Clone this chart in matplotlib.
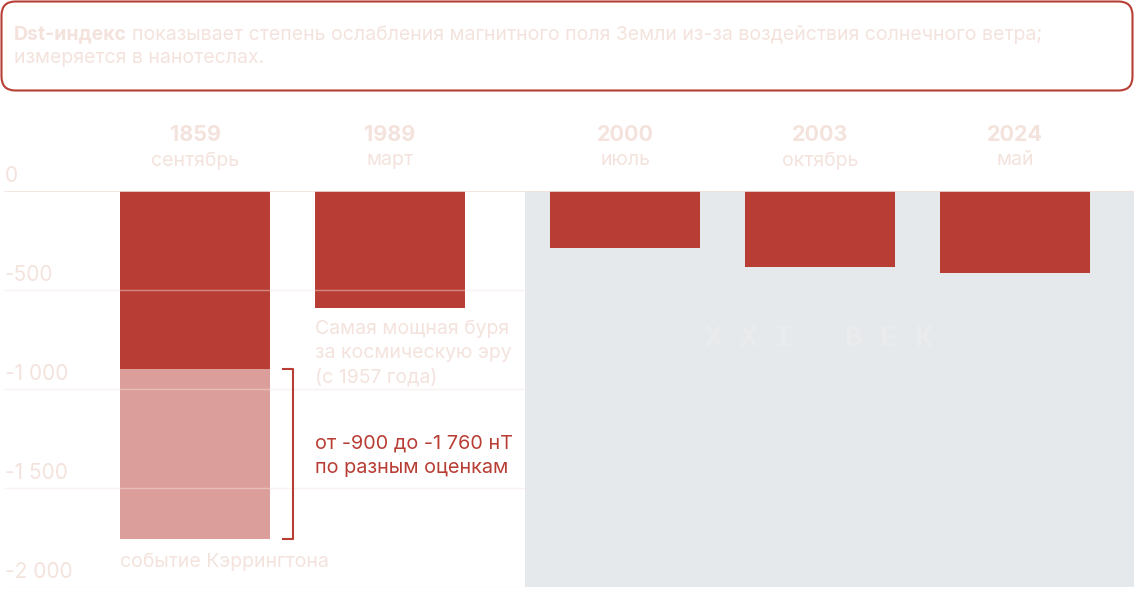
import matplotlib
matplotlib.use('Agg')
import matplotlib.pyplot as plt
import matplotlib.transforms as mtrans
from matplotlib.patches import FancyBboxPatch

# Data
years = ['1859', '1989', '2000', '2003', '2024']
months = ['сентябрь', 'март', 'июль', 'октябрь', 'май']
dst_min = [-900, -589, -289, -383, -412]
carrington_low = -1760
positions = [0, 1, 2.205, 3.205, 4.205]
ytick_vals = [0, -500, -1000, -1500, -2000]
ytick_labels = ['0', '-500', '-1 000', '-1 500', '-2 000']

# Colors
red = '#b83e35'
light_red = '#dc9e9a'
faint = '#f4e3dd'
gray_bg = '#e6e9ec'

plt.rcParams['font.family'] = ['Inter', 'DejaVu Sans']

W, H = 1134, 589
fig = plt.figure(figsize=(W / 100, H / 100), dpi=100, facecolor='white')

# overlay in pixel coords for the header
ov = fig.add_axes([0, 0, 1, 1])
ov.set_xlim(0, W)
ov.set_ylim(H, 0)
ov.axis('off')
box = FancyBboxPatch((1.5, 1.5), W - 3, 89, boxstyle='round,pad=0,rounding_size=14',
                     facecolor='white', edgecolor=red, linewidth=1.5)
ov.add_patch(box)
t1 = ov.text(14, 34, 'Dst-индекс', fontsize=14, fontweight='bold', color=faint, va='center')
fig.canvas.draw()
bb = t1.get_window_extent()
ov.text(14 + bb.width + 5, 34, 'показывает степень ослабления магнитного поля Земли из-за воздействия солнечного ветра;',
        fontsize=14, color=faint, va='center')
ov.text(14, 58, 'измеряется в нанотеслах.', fontsize=14, color=faint, va='center')

# main chart
ax = fig.add_axes([0, (H - 587) / H, 1, (587 - 191) / H])
ax.set_xlim(-1.0, 4.815)
ax.set_ylim(-2000, 0)
ax.axis('off')

ax.axvspan(1.692, 4.815, color=gray_bg, zorder=0, lw=0)
ax.text(3.2, -740, 'XXI ВЕК'.replace('', ' ').strip().replace('I   В', 'I   В'),
        fontsize=21, family='Liberation Mono', fontweight='bold',
        color='#eaebec', ha='center', va='center', zorder=1)

bw = 0.77
ax.bar(positions, dst_min, width=bw, color=red, zorder=2, lw=0)
ax.bar(positions[0], carrington_low - dst_min[0], bottom=dst_min[0], width=bw,
       color=light_red, zorder=2, lw=0)

# grid lines (on top of bars, faint)
for v in ytick_vals[1:]:
    ax.plot([-0.974, 1.692], [v, v], color='#f3e4e0', lw=1, alpha=0.45, zorder=3)
ax.plot([-0.974, 4.815], [0, 0], color='#f3e0da', lw=1.2, zorder=3)

# y tick labels
for v, s in zip(ytick_vals, ytick_labels):
    ax.text(5 / W, v, s, transform=mtrans.offset_copy(ax.get_yaxis_transform(), fig=fig, y=10.5, units='points'),
            fontsize=15, color=faint, va='center', ha='left')

# year / month labels
for p, y, m in zip(positions, years, months):
    ax.text(p, 0, y, transform=mtrans.offset_copy(ax.transData, fig=fig, y=40.5, units='points'),
            fontsize=15.5, fontweight='bold', color=faint, ha='center', va='center', clip_on=False)
    ax.text(p, 0, m, transform=mtrans.offset_copy(ax.transData, fig=fig, y=22, units='points'),
            fontsize=14, color=faint, ha='center', va='center', clip_on=False)

# annotations
storm_lines = ['Самая мощная буря', 'за космическую эру', '(с 1957 года)']
for i, line in enumerate(storm_lines):
    ax.text(positions[1] - bw / 2, -697 - 121 * i, line,
            fontsize=14, color=faint, ha='left', va='center')
ax.text(positions[0] - bw / 2, -1873, 'событие Кэррингтона',
        fontsize=14, color=faint, ha='left', va='center')

# bracket for range
bx = 0.503
ax.plot([bx - 0.052, bx, bx, bx - 0.052], [dst_min[0], dst_min[0], carrington_low, carrington_low],
        color=red, lw=1.5, zorder=3)
ax.text(0.615, -1277, 'от -900 до -1 760 нТ', fontsize=14.3, color=red, ha='left', va='center')
ax.text(0.615, -1398, 'по разным оценкам', fontsize=14.3, color=red, ha='left', va='center')

fig.savefig('out.png', dpi=100, facecolor='white')
